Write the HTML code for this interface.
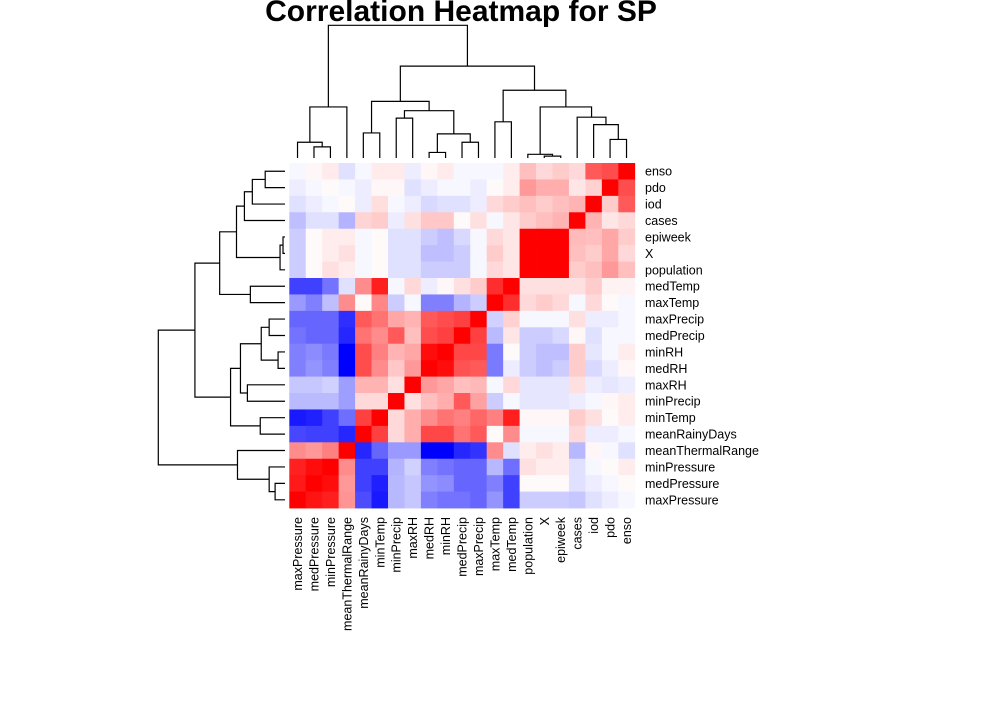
<!DOCTYPE html>
<html><head><meta charset="utf-8"><style>
html,body{margin:0;padding:0;background:#fff;}
svg{display:block;font-family:"Liberation Sans",Arial,sans-serif;}
</style></head><body>
<svg id="chart" width="988" height="708" viewBox="0 0 988 708">
<rect width="988" height="708" fill="#fff"/>
<text x="461" y="21" text-anchor="middle" font-size="30" font-weight="bold">Correlation Heatmap for SP</text>
<g id="cells"></g>
<g id="rowlabels"></g>
<g id="collabels"></g>
<g id="topdendro"></g>
<g id="leftdendro"></g>
</svg>
<script>
const colLabels = ["maxPressure","medPressure","minPressure","meanThermalRange","meanRainyDays","minTemp","minPrecip","maxRH","medRH","minRH","medPrecip","maxPrecip","maxTemp","medTemp","population","X","epiweek","cases","iod","pdo","enso"];
const rowLabels = ["enso","pdo","iod","cases","epiweek","X","population","medTemp","maxTemp","maxPrecip","medPrecip","minRH","medRH","maxRH","minPrecip","minTemp","meanRainyDays","meanThermalRange","minPressure","medPressure","maxPressure"];
const corrValues = [
[-0.03,0.03,0.08,-0.12,-0.03,0.08,0.08,-0.07,0.03,0.08,-0.03,-0.03,-0.03,0.07,0.25,0.15,0.2,0.15,0.65,0.7,1],
[-0.07,-0.03,0.02,-0.03,-0.07,0.03,0.03,-0.12,-0.07,-0.03,-0.03,-0.07,0.02,0.07,0.4,0.32,0.32,0.1,0.18,1,0.7],
[-0.12,-0.07,-0.03,0.02,-0.07,0.13,-0.03,-0.07,-0.15,-0.12,-0.12,-0.07,0.15,0.2,0.25,0.2,0.25,0.3,1,0.2,0.65],
[-0.25,-0.12,-0.12,-0.3,0.17,0.2,-0.07,0.12,0.22,0.22,0.02,0.12,-0.03,0.1,0.2,0.25,0.3,1,0.3,0.1,0.15],
[-0.2,0.02,0.07,0.07,-0.03,0.02,-0.12,-0.12,-0.2,-0.25,-0.15,-0.03,0.15,0.1,1,1,1,0.27,0.25,0.35,0.2],
[-0.2,0.02,0.07,0.12,-0.03,0.02,-0.12,-0.12,-0.25,-0.25,-0.2,-0.03,0.2,0.1,1,1,1,0.25,0.2,0.35,0.15],
[-0.2,0.02,0.12,0.07,-0.03,0.02,-0.12,-0.12,-0.2,-0.2,-0.2,-0.03,0.15,0.1,1,1,1,0.2,0.25,0.4,0.25],
[-0.75,-0.75,-0.55,-0.12,0.45,0.88,-0.03,0.15,-0.07,0.03,0.12,0.2,0.82,1,0.12,0.12,0.12,0.12,0.2,0.05,0.05],
[-0.4,-0.5,-0.25,0.45,0.02,0.47,-0.2,-0.03,-0.5,-0.5,-0.3,-0.2,1,0.82,0.15,0.2,0.15,-0.03,0.15,0.02,-0.03],
[-0.6,-0.6,-0.6,-0.82,0.65,0.55,0.35,0.3,0.65,0.7,0.75,1,-0.18,0.18,-0.03,-0.03,-0.03,0.12,-0.07,-0.07,-0.03],
[-0.55,-0.6,-0.6,-0.85,0.55,0.45,0.65,0.25,0.7,0.75,1,0.75,-0.27,0.1,-0.2,-0.2,-0.15,0.03,-0.12,-0.03,-0.03],
[-0.5,-0.45,-0.52,-1,0.7,0.5,0.3,0.35,0.95,1,0.72,0.72,-0.52,0.02,-0.2,-0.25,-0.25,0.2,-0.1,-0.03,0.07],
[-0.5,-0.42,-0.5,-1,0.7,0.45,0.22,0.4,1,0.95,0.68,0.65,-0.52,-0.07,-0.2,-0.25,-0.2,0.2,-0.15,-0.07,0.03],
[-0.22,-0.22,-0.18,-0.38,0.3,0.3,0.12,1,0.4,0.35,0.25,0.28,-0.03,0.15,-0.1,-0.1,-0.1,0.12,-0.07,-0.1,-0.07],
[-0.27,-0.27,-0.27,-0.38,0.15,0.15,1,0.12,0.25,0.32,0.65,0.37,-0.2,-0.03,-0.1,-0.1,-0.1,-0.07,-0.03,0.03,0.07],
[-0.9,-0.87,-0.75,-0.57,0.75,1,0.15,0.32,0.45,0.55,0.5,0.6,0.5,0.88,0.03,0.03,0.03,0.2,0.12,0.02,0.07],
[-0.72,-0.75,-0.75,-0.85,1,0.75,0.15,0.32,0.72,0.72,0.55,0.65,0.02,0.45,-0.03,-0.03,-0.03,0.15,-0.07,-0.07,-0.03],
[0.45,0.4,0.5,1,-0.85,-0.6,-0.4,-0.4,-1,-1,-0.85,-0.8,0.45,-0.12,0.07,0.12,0.07,-0.28,0.03,-0.03,-0.12],
[0.87,0.95,1,0.45,-0.75,-0.75,-0.3,-0.18,-0.5,-0.55,-0.6,-0.6,-0.28,-0.57,0.12,0.07,0.07,-0.12,-0.03,0.02,0.07],
[0.9,1,0.95,0.4,-0.75,-0.88,-0.28,-0.22,-0.42,-0.45,-0.6,-0.6,-0.5,-0.75,0.02,0.02,0.02,-0.12,-0.07,-0.03,0.02],
[1,0.92,0.88,0.42,-0.7,-0.9,-0.28,-0.22,-0.5,-0.55,-0.55,-0.6,-0.42,-0.75,-0.2,-0.2,-0.2,-0.22,-0.12,-0.07,-0.03]
];
// dendrogram trees: leaf = index, node = [left, right, height]
const colTree = [[[0,[1,2,0.12],0.17],3,0.55],[[[4,5,0.27],[[6,7,0.43],[[8,9,0.06],[10,11,0.17],0.26],0.51],0.61],[[12,13,0.39],[[14,[15,16,0.02],0.04],[17,[18,[19,20,0.20],0.36],0.44],0.55],0.73],0.99],1.43];
const rowTree = [[[[[[[0,1,0.20],2,0.33],3,0.41],[[4,5,0.02],6,0.05],0.49],[7,8,0.35],0.66],[[[[9,10,0.16],[11,12,0.07],0.24],[13,14,0.38],0.45],[15,16,0.25],0.55],0.91],[17,[18,[19,20,0.10],0.16],0.48],1.28];

const NS="http://www.w3.org/2000/svg";
const gx0=289.3, gy0=163, cw=16.45, ch=16.43, n=21;
function xPos(i){return gx0+cw*i;}
function yPos(i){return gy0+ch*i;}
function color(v){
  v=Math.max(-1,Math.min(1,v));
  if(v>=0){const c=Math.round(255*(1-v));return `rgb(255,${c},${c})`;}
  const c=Math.round(255*(1+v));return `rgb(${c},${c},255)`;
}
const cells=document.getElementById('cells');
corrValues.forEach((row,r)=>row.forEach((v,c)=>{
  const el=document.createElementNS(NS,'rect');
  el.setAttribute('x',xPos(c));el.setAttribute('y',yPos(r));
  el.setAttribute('width',cw+0.4);el.setAttribute('height',ch+0.4);
  el.setAttribute('fill',color(v));
  
  
  cells.appendChild(el);
}));
const rl=document.getElementById('rowlabels');
rowLabels.forEach((t,r)=>{
  const el=document.createElementNS(NS,'text');
  el.setAttribute('x',645);el.setAttribute('y',yPos(r)+ch/2+4.5);
  el.setAttribute('font-size','12.5');el.textContent=t;
  
  
  rl.appendChild(el);
});
const cl=document.getElementById('collabels');
colLabels.forEach((t,c)=>{
  const el=document.createElementNS(NS,'text');
  const x=xPos(c)+cw/2+4.5, y=517;
  el.setAttribute('x',x);el.setAttribute('y',y);
  el.setAttribute('transform',`rotate(-90 ${x} ${y})`);
  el.setAttribute('text-anchor','end');
  el.setAttribute('font-size','12.5');el.textContent=t;
  
  
  cl.appendChild(el);
});
// top dendrogram: leaves at y=158, height scale: root 1.43 -> y 25.3
function drawTree(tree,g,leafPos,hToPos,leafBase,vertical){
  function rec(node){
    if(typeof node==='number') return {p:leafPos(node),h:leafBase};
    const a=rec(node[0]), b=rec(node[1]), hp=hToPos(node[2]);
    const el=document.createElementNS(NS,'path');
    let d;
    if(vertical) d=`M${a.p},${a.h}V${hp}H${b.p}V${b.h}`;
    else d=`M${a.h},${a.p}H${hp}V${b.p}H${b.h}`;
    el.setAttribute('d',d);el.setAttribute('fill','none');
    el.setAttribute('stroke','#000');el.setAttribute('stroke-width','1.2');
    
    
    g.appendChild(el);
    return {p:(a.p+b.p)/2,h:hp};
  }
  rec(tree);
}
drawTree(colTree,document.getElementById('topdendro'),i=>xPos(i)+cw/2,h=>158-h*(158-25.3)/1.43,158,true);
drawTree(rowTree,document.getElementById('leftdendro'),i=>yPos(i)+ch/2,h=>285-h*(285-158.3)/1.28,285,false);
</script>
</body></html>
